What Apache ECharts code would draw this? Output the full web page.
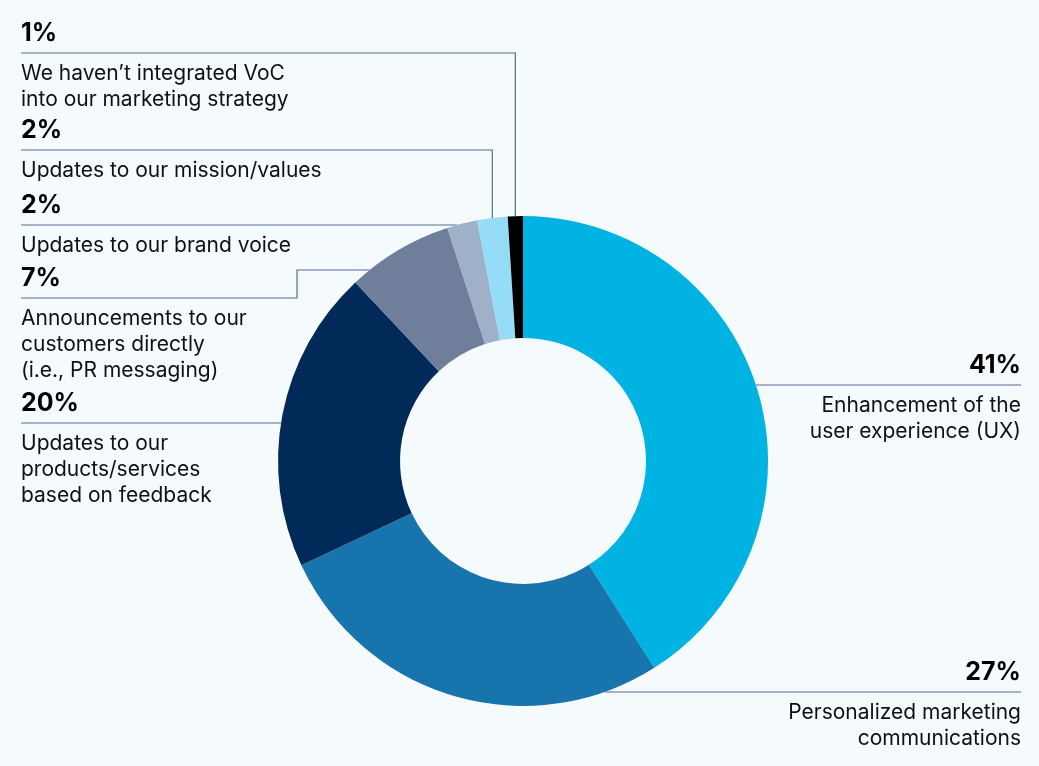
<!DOCTYPE html>
<html>
<head>
<meta charset="utf-8">
<script src="https://cdn.jsdelivr.net/npm/echarts@6/dist/echarts.min.js"></script>
<style>
html,body{margin:0;padding:0;background:#f5fafc;}
#c{width:1039px;height:766px;}
</style>
</head>
<body>
<div id="c"></div>
<script>
// ---- data ----
const categories = [
  "Enhancement of the\nuser experience (UX)",
  "Personalized marketing\ncommunications",
  "Updates to our\nproducts/services\nbased on feedback",
  "Announcements to our\ncustomers directly\n(i.e., PR messaging)",
  "Updates to our brand voice",
  "Updates to our mission/values",
  "We haven\u2019t integrated VoC\ninto our marketing strategy"
];
const values = [41, 27, 20, 7, 2, 2, 1];
const sliceColors = ["#00b3e3", "#1874ad", "#022a59", "#6e7e9b", "#9fb0c9", "#95dcf7", "#000000"];

// ---- label slot layout (positions, not data) ----
const labelSlots = [
  { side: "right", lineY: 385 },
  { side: "right", lineY: 692 },
  { side: "left", lineY: 423 },
  { side: "left", lineY: 298, elbowY: 270, elbowX: 297 },
  { side: "left", lineY: 225 },
  { side: "left", lineY: 150, vertical: true },
  { side: "left", lineY: 53, vertical: true }
];

const CX = 0.5034, CY = 0.6018, R_IN = 123, R_OUT = 245, MARGIN_L = 21, MARGIN_R = 18;
const total = values.reduce((a, b) => a + b, 0);

const chart = echarts.init(document.getElementById("c"), null, { renderer: "canvas" });

function midAngle(i) {
  let before = 0;
  for (let k = 0; k < i; k++) before += values[k];
  return ((before + values[i] / 2) / total) * Math.PI * 2;
}

const option = {
  backgroundColor: "#f5fafc",
  animation: false,
  series: [{
    type: "pie",
    radius: [R_IN, R_OUT],
    center: [(CX * 100) + "%", (CY * 100) + "%"],
    startAngle: 90,
    clockwise: true,
    avoidLabelOverlap: false,
    silent: true,
    itemStyle: { borderWidth: 0 },
    data: values.map((v, i) => ({ value: v, name: categories[i], itemStyle: { color: sliceColors[i] } })),
    label: {
      show: true,
      position: "outside",
      formatter: function (p) {
        const lines = p.name.split("\n").map(t => "{d|" + t + "}").join("\n");
        return "{v|" + p.value + "%}\n{s| }\n" + lines;
      },
      rich: {
        v: { fontFamily: "Inter", fontWeight: "bold", fontSize: 25, lineHeight: 30, color: "#000" },
        s: { fontSize: 10, lineHeight: 12 },
        d: { fontFamily: "Inter", fontSize: 21, lineHeight: 26, color: "#111" }
      }
    },
    labelLine: {
      show: true,
      smooth: false,
      lineStyle: { color: "#546c96", width: 1.2 }
    },
    labelLayout: function (params) {
      const i = params.dataIndex;
      const s = labelSlots[i];
      const W = chart.getWidth(), H = chart.getHeight();
      const cx = W * CX, cy = H * CY, R = R_OUT;
      const left = s.side === "left";
      const textX = left ? MARGIN_L : W - MARGIN_R;
      const edgeX = (y) => cx + (left ? -1 : 1) * Math.sqrt(Math.max(0, R * R - (y - cy) * (y - cy)));
      let pts;
      if (s.vertical) {
        const a = midAngle(i);
        const px = cx + R * Math.sin(a), py = cy - R * Math.cos(a);
        pts = [[px, py], [px, s.lineY], [textX, s.lineY]];
      } else if (s.elbowY) {
        pts = [[edgeX(s.elbowY), s.elbowY], [s.elbowX, s.elbowY], [s.elbowX, s.lineY], [textX, s.lineY]];
      } else {
        pts = [[edgeX(s.lineY), s.lineY], [textX, s.lineY]];
      }
      return {
        x: textX,
        y: s.lineY - 34.5,
        align: left ? "left" : "right",
        verticalAlign: "top",
        labelLinePoints: pts
      };
    }
  }]
};
chart.setOption(option);
</script>
</body>
</html>
